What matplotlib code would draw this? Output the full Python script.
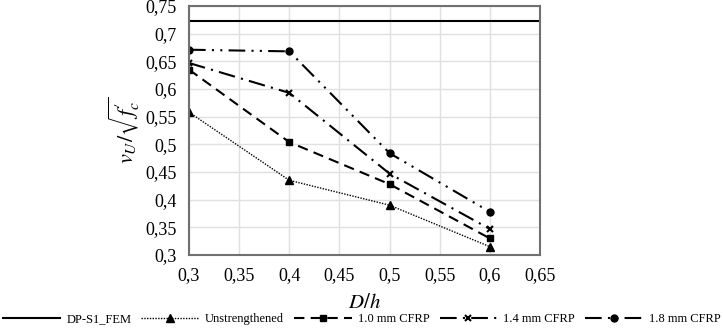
import matplotlib.pyplot as plt

plt.rcParams['font.family'] = ['Liberation Serif', 'DejaVu Serif']
plt.rcParams['mathtext.fontset'] = 'stix'

dh = [0.3, 0.4, 0.5, 0.6]
fem = 0.722
unstr = [0.558, 0.435, 0.390, 0.315]
cfrp10 = [0.635, 0.504, 0.428, 0.330]
cfrp14 = [0.647, 0.593, 0.447, 0.347]
cfrp18 = [0.671, 0.668, 0.484, 0.378]

fig = plt.figure(figsize=(7.23, 3.35), dpi=100)
ax = fig.add_axes([189/723, 1-255/335, 351/723, 249/335])

ax.axhline(fem, color='black', lw=1.5, label='DP-S1_FEM')
ax.plot(dh, unstr, color='black', ls=(0, (1, 1)), lw=1, marker='^', ms=6, label='Unstrengthened')
ax.plot(dh, cfrp10, color='black', ls=(0, (5, 3)), lw=1.5, marker='s', ms=5, label='1.0 mm CFRP')
ax.plot(dh, cfrp14, color='black', ls=(0, (8, 3, 1, 3)), lw=1.5, marker='x', ms=5, mew=1.5, label='1.4 mm CFRP')
ax.plot(dh, cfrp18, color='black', ls=(0, (8, 3, 1, 3, 1, 3)), lw=1.5, marker='o', ms=5, label='1.8 mm CFRP')

ax.set_xlim(0.3, 0.65)
ax.set_ylim(0.3, 0.75)
ax.set_xticks([0.3, 0.35, 0.4, 0.45, 0.5, 0.55, 0.6, 0.65])
ax.set_yticks([0.3, 0.35, 0.4, 0.45, 0.5, 0.55, 0.6, 0.65, 0.7, 0.75])
ax.set_xticklabels(['0,3', '0,35', '0,4', '0,45', '0,5', '0,55', '0,6', '0,65'])
ax.set_yticklabels(['0,3', '0,35', '0,4', '0,45', '0,5', '0,55', '0,6', '0,65', '0,7', '0,75'])
ax.tick_params(length=0, labelsize=13, pad=9)
ax.grid(color='#e0e0e0', lw=1)
ax.set_axisbelow(True)
for s in ax.spines.values():
    s.set_color('#707070')
    s.set_linewidth(1.5)

ax.set_xlabel('$D/h$', fontsize=15, labelpad=7)
ax.set_ylabel(r"$v_U/\sqrt{f_c^{\prime}}$", fontsize=16, labelpad=2)

fig.legend(loc='lower center', bbox_to_anchor=(0.5, -0.005), ncol=5, frameon=False,
           fontsize=9, handlelength=4.6, columnspacing=0.8, handletextpad=0.5,
           numpoints=1)

fig.savefig('out.png', dpi=100)
